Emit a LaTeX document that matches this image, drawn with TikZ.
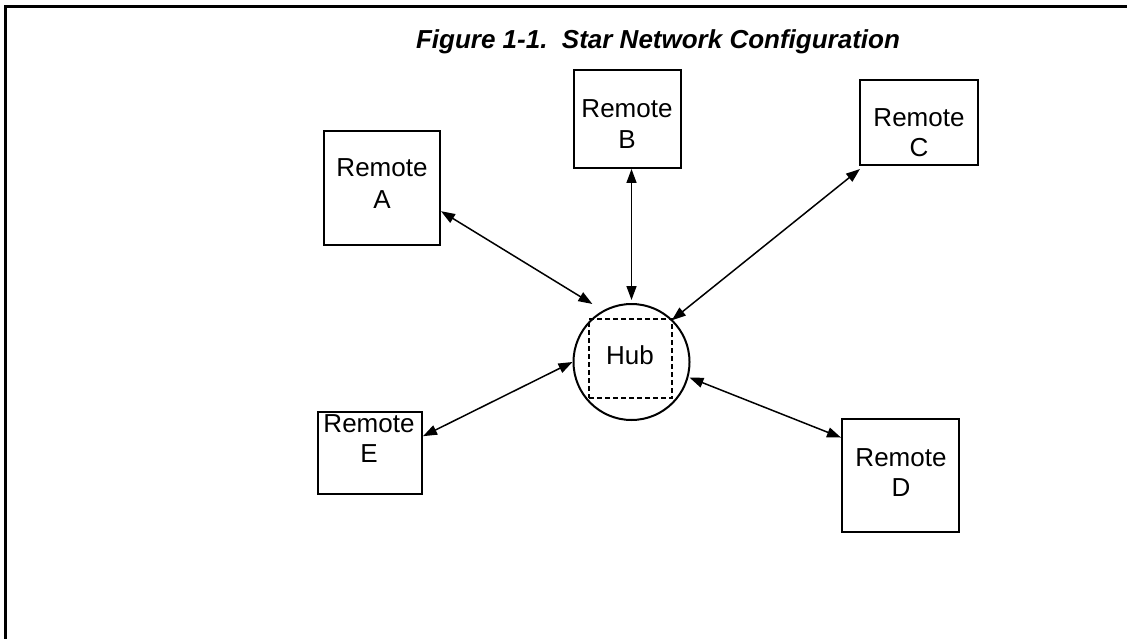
\documentclass[tikz,border=0pt]{standalone}
\usepackage{fontspec}
\setmainfont{Liberation Sans}
\usetikzlibrary{arrows.meta,calc}
\begin{document}
\begin{tikzpicture}[x=1pt,y=-1pt,
  remote/.style={draw, line width=2pt, inner sep=0pt},
  lbl/.style={anchor=base, inner sep=0pt, font=\fontsize{26}{30}\selectfont},
  link/.style={line width=1.5pt,
    {Triangle[length=14pt,width=10pt]}-{Triangle[length=14pt,width=10pt]}}]
\useasboundingbox (0,0) rectangle (1127,639);
% partial page frame: top and left rules only
\draw[line width=2.5pt] (5.5,639) -- (5.5,6.5) -- (1127,6.5);

% caption
\node[lbl, font=\fontsize{26}{30}\selectfont\bfseries\itshape] (title) at (658,49)
  {Figure 1-1.\ \ Star Network Configuration};

% hub
\node[draw, circle, line width=2pt, minimum size=116pt, inner sep=0pt] (hub) at (631.5,362) {};
\node[draw, dashed, dash pattern=on 5pt off 3pt, line width=1.5pt,
  minimum width=83pt, minimum height=79pt, inner sep=0pt] (core) at (630.5,358.5) {};
\node[lbl] (hubtxt) at (630,364) {Hub};

% remote stations
\node[remote, minimum width=116pt, minimum height=114pt] (A) at (382,188) {};
\node[lbl] (A1) at (382,177) {Remote};
\node[lbl] (A2) at (382,208) {A};

\node[remote, minimum width=107pt, minimum height=98pt] (B) at (627.5,119) {};
\node[lbl] (B1) at (627,118) {Remote};
\node[lbl] (B2) at (627,149) {B};

\node[remote, minimum width=118pt, minimum height=85pt] (C) at (919,122.5) {};
\node[lbl] (C1) at (919,127) {Remote};
\node[lbl] (C2) at (919,157) {C};

\node[remote, minimum width=104pt, minimum height=82pt] (E) at (370,453) {};
\node[lbl] (E1) at (369,432) {Remote};
\node[lbl] (E2) at (369,462) {E};

\node[remote, minimum width=117pt, minimum height=113pt] (D) at (900.5,475.5) {};
\node[lbl] (D1) at (901,466) {Remote};
\node[lbl] (D2) at (901,496) {D};

% links between hub and remotes
\draw[link] ($(A.north east)!0.70!(A.south east)$) -- ($(hub.center)!70pt!(hub.124)$);
\draw[link] (hub.north |- B.south) -- ($(hub.center)!62pt!(hub.90)$);
\draw[link] ($(C.south west)+(1,3)$) -- ($(hub.center)!58pt!(hub.46)$);
\draw[link] ($(E.north east)!0.30!(E.south east)$) -- (hub.180);
\draw[link] ($(D.north west)!0.17!(D.south west)$) -- ($(hub.center)!60pt!(hub.-15)$);
\end{tikzpicture}
\end{document}
